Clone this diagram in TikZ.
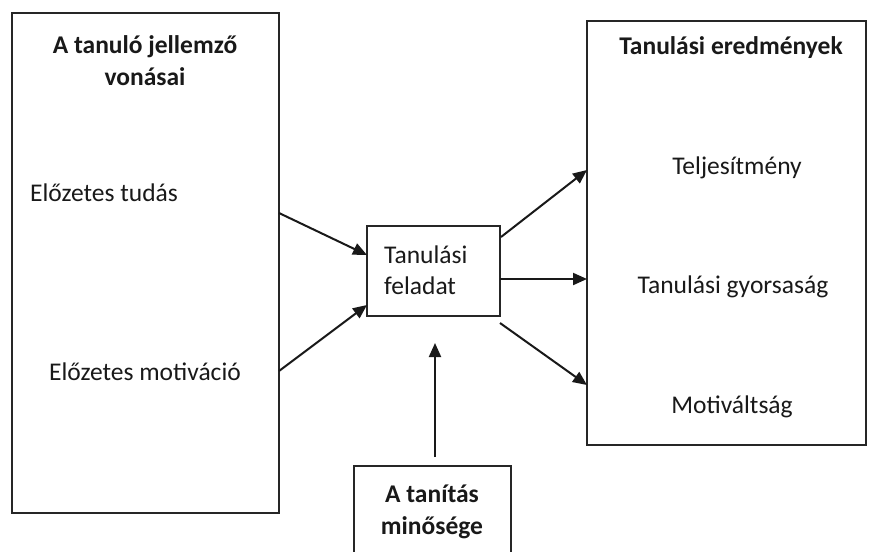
\documentclass[tikz,border=0pt]{standalone}
\usepackage{fontspec}
\setmainfont{Carlito}
\usetikzlibrary{arrows.meta}
\begin{document}
\begin{tikzpicture}[x=1pt,y=-1pt,
  frame/.style={draw=black!85, line width=2pt, inner sep=0pt},
  label/.style={font=\fontsize{25.5}{31}\selectfont, inner sep=0pt, text=black!90},
  title/.style={label, font=\fontsize{25.5}{32}\selectfont\bfseries, align=center},
  link/.style={draw=black!90, line width=2pt, -{Triangle[length=14pt,width=12pt]}}]
  \useasboundingbox (0,0) rectangle (869,551);
  \clip (0,0) rectangle (869,551);
  \fill[white] (0,0) rectangle (869,551);

  % boxes
  \node[frame, minimum width=267pt, minimum height=500pt] (learner) at (145.5,263) {};
  \node[frame, minimum width=279pt, minimum height=424pt] (outcome) at (726.5,233) {};
  \node[frame, minimum width=133pt, minimum height=90pt] (task) at (433.5,271) {};
  \node[frame, minimum width=157pt, minimum height=120pt, anchor=north] (teach) at (432.5,465) {};

  % texts
  \node[title] (learnerT) at (145,61) {A tanuló jellemző\\vonásai};
  \node[label, anchor=west] (prior) at (30,193) {Előzetes tudás};
  \node[label, anchor=west] (motiv) at (49,372) {Előzetes motiváció};
  \node[title] (outcomeT) at (731,48) {Tanulási eredmények};
  \node[label] (perf) at (737,168) {Teljesítmény};
  \node[label] (speed) at (733,287) {Tanulási gyorsaság};
  \node[label] (motd) at (732,407) {Motiváltság};
  \node[label, anchor=west, align=left] (taskT) at (384,270) {Tanulási\\feladat};
  \node[title] (teachT) at (432,512) {A tanítás\\minősége};

  % connector end points on the box borders
  \coordinate (l1) at (279,213);
  \coordinate (l2) at (279,371);
  \coordinate (t1) at (367,255);
  \coordinate (t2) at (367,305);
  \coordinate (r1) at (501,237);
  \coordinate (r2) at (500,279);
  \coordinate (r3) at (500,323);
  \coordinate (o1) at (587,170);
  \coordinate (o2) at (587,279);
  \coordinate (o3) at (587,385);
  \coordinate (b0) at (435,457);
  \coordinate (b1) at (435,343);

  \draw[link] (l1) -- (t1);
  \draw[link] (l2) -- (t2);
  \draw[link] (r1) -- (o1);
  \draw[link] (r2) -- (o2);
  \draw[link] (r3) -- (o3);
  \draw[link] (b0) -- (b1);
\end{tikzpicture}
\end{document}
